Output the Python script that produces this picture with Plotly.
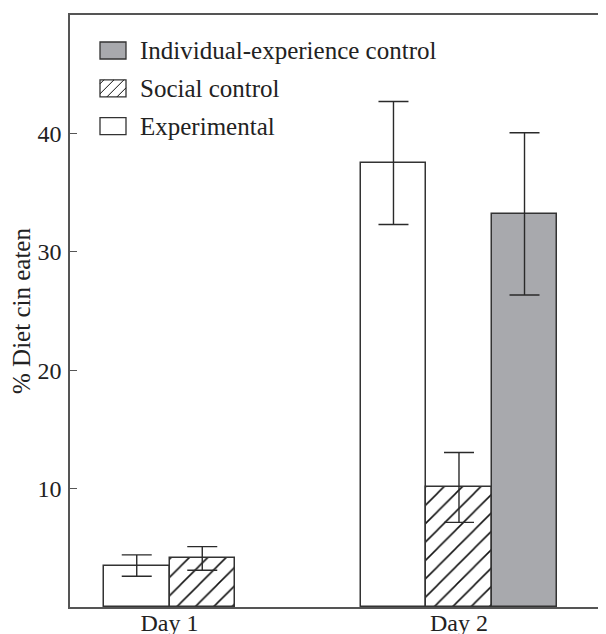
import plotly.graph_objects as go

# ---- data ----
days = ["Day 1", "Day 2"]
series_names = ["Experimental", "Social control", "Individual-experience control"]
experimental = [3.5, 37.5]
experimental_err = [0.9, 5.2]
social = [4.1, 10.1]
social_err = [1.0, 2.95]
individual = [None, 33.2]
individual_err = [None, 6.85]

values = [experimental, social, individual]
errors = [experimental_err, social_err, individual_err]

# ---- styles ----
FONT = "Liberation Serif"
EDGE = "#333333"
TXT = "#222222"
GRAY = "#a8a9ad"
fills = ["white", "white", GRAY]
hatched = [False, True, False]
legend_order = [2, 1, 0]  # top-to-bottom legend rows (series index)

bar_w = 0.2263
day_pos = [1, 2]

# plot area geometry (pixels of the figure)
FIG_W, FIG_H = 598, 626
M_L, M_R, M_T, M_B = 62, 0, 7, 27
PW = FIG_W - M_L - M_R
PH = FIG_H - M_T - M_B


def px_x(x):  # figure px -> paper fraction
    return (x - M_L) / PW


def px_y(y):  # figure px (from top) -> paper fraction
    return (FIG_H - M_B - y) / PH


fig = go.Figure()
for s, name in enumerate(series_names):
    xs, ys, es = [], [], []
    for d, center in enumerate(day_pos):
        present = [k for k in range(len(series_names)) if values[k][d] is not None]
        if values[s][d] is None:
            continue
        idx = present.index(s)
        offset = (idx - (len(present) - 1) / 2) * bar_w
        xs.append(center + offset)
        ys.append(values[s][d])
        es.append(errors[s][d])
    marker = dict(color=fills[s], line=dict(color=EDGE, width=1.5))
    if hatched[s]:
        marker["pattern"] = dict(shape="/", fgcolor="#111111", bgcolor="white", size=13, solidity=0.12)
    fig.add_trace(go.Bar(
        x=xs, y=ys, width=bar_w, name=name, showlegend=False,
        marker=marker,
        error_y=dict(type="data", array=es, visible=True, color="#2a2a2a", thickness=1.4, width=15),
    ))

# ---- legend (drawn as boxes + text to get the wide swatches) ----
BOX_X0, BOX_W, BOX_H = 92, 26, 17
ROW0, ROW_STEP = 42.5, 37.8
TEXT_X = 130
shapes, annotations = [], []
for r, s in enumerate(legend_order):
    cy = ROW0 + r * ROW_STEP
    y0, y1 = cy + BOX_H / 2, cy - BOX_H / 2
    x0, x1 = BOX_X0, BOX_X0 + BOX_W
    shapes.append(dict(type="rect", xref="paper", yref="paper",
                       x0=px_x(x0), x1=px_x(x1), y0=px_y(y0), y1=px_y(y1),
                       fillcolor=fills[s], line=dict(color=EDGE, width=1.3), layer="above"))
    if hatched[s]:
        path = ""
        for c in [-13, -3, 7, 17]:
            xa, xb = max(0, c), min(BOX_W, BOX_H + c)
            if xb <= xa:
                continue
            ya, yb = xa - c, xb - c
            path += "M%.4f,%.4f L%.4f,%.4f " % (px_x(x0 + xa), px_y(y0 - ya), px_x(x0 + xb), px_y(y0 - yb))
        shapes.append(dict(type="path", xref="paper", yref="paper", path=path,
                           line=dict(color="#111111", width=1), layer="above"))
    annotations.append(dict(xref="paper", yref="paper", x=px_x(TEXT_X), y=px_y(cy),
                            xanchor="left", yanchor="middle", showarrow=False,
                            text=series_names[s], font=dict(family=FONT, size=25, color=TXT)))

fig.update_layout(
    template="none",
    width=FIG_W, height=FIG_H,
    margin=dict(l=M_L, r=M_R, t=M_T, b=M_B, autoexpand=False),
    paper_bgcolor="white", plot_bgcolor="white",
    font=dict(family=FONT, size=24, color=TXT),
    showlegend=False,
    shapes=shapes, annotations=annotations,
    bargap=0,
)
fig.update_xaxes(
    automargin=False,
    range=[0.6563, 2.5078], tickvals=day_pos, ticktext=days,
    showline=True, linecolor="#555555", linewidth=1.5, mirror=True,
    showgrid=False, zeroline=False, ticks="", ticklabelstandoff=-7,
    tickfont=dict(family=FONT, size=24, color=TXT),
)
fig.update_yaxes(
    automargin=False,
    range=[0, 50], tickvals=[10, 20, 30, 40],
    showline=True, linecolor="#555555", linewidth=1.5,
    showgrid=False, zeroline=False, ticks="inside", ticklen=7, tickwidth=1.2, tickcolor="#555555",
    ticklabelstandoff=2,
    tickfont=dict(family=FONT, size=24, color=TXT),
    title=dict(text="% Diet cin eaten", font=dict(family=FONT, size=25, color=TXT), standoff=12),
)

fig.write_html("out.html")
